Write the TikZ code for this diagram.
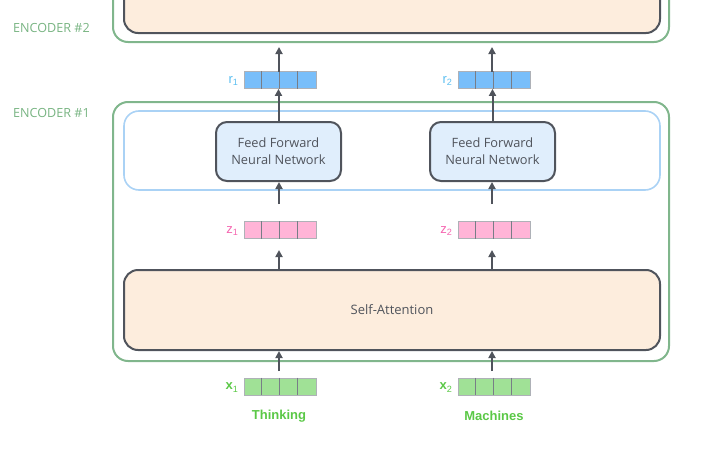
\documentclass[tikz,border=0pt]{standalone}
\usepackage{fontspec}
\setmainfont{Open Sans}
\newfontfamily\arialf{Liberation Sans}
\usetikzlibrary{arrows.meta}
\definecolor{encgreen}{RGB}{128,182,140}
\definecolor{enctext}{RGB}{120,180,130}
\definecolor{peach}{RGB}{253,237,221}
\definecolor{darkline}{RGB}{80,84,92}
\definecolor{ffnfill}{RGB}{224,238,252}
\definecolor{bluebord}{RGB}{170,210,245}
\definecolor{rfill}{RGB}{120,190,250}
\definecolor{rlab}{RGB}{90,190,240}
\definecolor{zfill}{RGB}{255,180,215}
\definecolor{zlab}{RGB}{245,100,175}
\definecolor{xfill}{RGB}{160,225,150}
\definecolor{xlab}{RGB}{90,200,70}
\definecolor{cellline}{RGB}{120,125,135}
\tikzset{
  encbox/.style={draw=encgreen, line width=2pt, rounded corners=15pt, minimum width=556pt, inner sep=0pt},
  sabox/.style={draw=darkline, fill=peach, line width=2pt, rounded corners=14pt, minimum width=536pt, inner sep=0pt, text=darkline, font=\fontsize{13}{15}\selectfont},
  bluebox/.style={draw=bluebord, line width=1.6pt, rounded corners=15pt, minimum width=536pt, minimum height=79pt, inner sep=0pt},
  ffnbox/.style={draw=darkline, fill=ffnfill, line width=2pt, rounded corners=11pt, minimum width=125pt, minimum height=59pt, inner sep=0pt, align=center, text=darkline, font=\fontsize{12.8}{17}\selectfont},
  vecbox/.style={draw=cellline!60, line width=0.8pt, minimum width=72pt, minimum height=17pt, inner sep=0pt},
  arr/.style={draw=darkline, line width=2pt, -{Triangle[length=7pt,width=7pt]}},
  enclab/.style={text=enctext, font=\fontsize{12.6}{15}\selectfont, anchor=west, inner sep=0pt},
  veclab/.style={font=\arialf\fontsize{13}{15}\selectfont, anchor=east, inner sep=0pt},
  wordlab/.style={text=xlab, font=\arialf\bfseries\fontsize{13}{15}\selectfont}
}
\newcommand{\cells}[1]{%
  \foreach \k in {1,2,3} {\draw[cellline, line width=0.8pt] ([xshift=\k*18pt]#1.north west) -- ([xshift=\k*18pt]#1.south west);}}
\begin{document}
\begin{tikzpicture}[x=1pt,y=-1pt]
\useasboundingbox (0,0) rectangle (728,463);
\clip (0,0) rectangle (728,463);
% Encoder 2
\node[encbox, minimum height=80pt] (enc2) at (391,2) {};
\node[sabox, minimum height=70pt] (enc2in) at (392,-2) {};
\node[enclab] (lab2) at (13,28) {ENCODER \#2};
% Encoder 1
\node[encbox, minimum height=259pt] (enc1) at (391,231.5) {};
\node[enclab] (lab1) at (13,113) {ENCODER \#1};
\node[bluebox] (blue) at (392,150.5) {};
\node[ffnbox] (ffn1) at (278.5,151.5) {Feed Forward\\Neural Network};
\node[ffnbox] (ffn2) at (492.5,151.5) {Feed Forward\\Neural Network};
\node[sabox, minimum height=80pt] (sa) at (392,310) {Self-Attention};
% vectors
\node[vecbox, fill=rfill] (r1) at (280,80) {}; \cells{r1}
\node[vecbox, fill=rfill] (r2) at (494,80) {}; \cells{r2}
\node[vecbox, fill=zfill] (z1) at (280,230) {}; \cells{z1}
\node[vecbox, fill=zfill] (z2) at (494,230) {}; \cells{z2}
\node[vecbox, fill=xfill] (x1) at (280,386.5) {}; \cells{x1}
\node[vecbox, fill=xfill] (x2) at (494,386.5) {}; \cells{x2}
\node[veclab, text=rlab] (r1l) at ([xshift=-5pt,yshift=-1pt]r1.west) {r\textsubscript{1}};
\node[veclab, text=rlab] (r2l) at ([xshift=-5pt,yshift=-1pt]r2.west) {r\textsubscript{2}};
\node[veclab, text=zlab] (z1l) at ([xshift=-5pt,yshift=-1pt]z1.west) {z\textsubscript{1}};
\node[veclab, text=zlab] (z2l) at ([xshift=-5pt,yshift=-1pt]z2.west) {z\textsubscript{2}};
\node[veclab, text=xlab, font=\arialf\bfseries\fontsize{13}{15}\selectfont] (x1l) at ([xshift=-5pt,yshift=-1pt]x1.west) {x\textsubscript{\mdseries 1}};
\node[veclab, text=xlab, font=\arialf\bfseries\fontsize{13}{15}\selectfont] (x2l) at ([xshift=-5pt,yshift=-1pt]x2.west) {x\textsubscript{\mdseries 2}};
\node[wordlab] (w1) at (279,416) {Thinking};
\node[wordlab] (w2) at (494,416) {Machines};
% coordinates
\coordinate (t1) at (279,47);
\coordinate (t2) at (492,47);
\coordinate (s1) at (279,204);
\coordinate (s2) at (492,204);
\coordinate (h1) at (279,250);
\coordinate (h2) at (492,250);
\coordinate (b1) at (279,371);
\coordinate (b2) at (492,371);
% arrows
\draw[arr] (279,71.5) -- (t1);
\draw[arr] (492,71.5) -- (t2);
\draw[arr] (ffn1.north) -- (ffn1.north |- r1.south);
\draw[arr] (ffn2.north) -- (ffn2.north |- r2.south);
\draw[arr] (s1) -- (s1 |- ffn1.south);
\draw[arr] (s2) -- (s2 |- ffn2.south);
\draw[arr] (h1 |- sa.north) -- (h1);
\draw[arr] (h2 |- sa.north) -- (h2);
\draw[arr] (b1) -- (b1 |- sa.south);
\draw[arr] (b2) -- (b2 |- sa.south);
\end{tikzpicture}
\end{document}
